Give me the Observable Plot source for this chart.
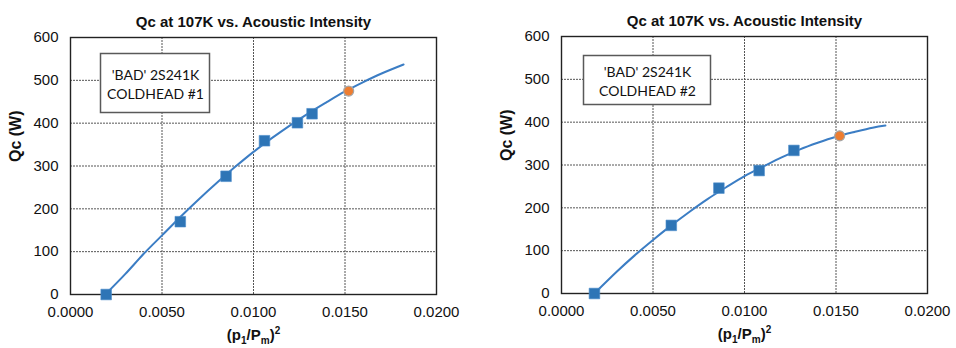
<!DOCTYPE html>
<html>
<head>
<meta charset="utf-8">
<script src="https://cdn.jsdelivr.net/npm/d3@7"></script>
<script src="https://cdn.jsdelivr.net/npm/@observablehq/plot@0.6"></script>
<style>
  html, body { margin: 0; padding: 0; background: #fff; }
  #wrap { display: flex; width: 956px; height: 348px; }
</style>
</head>
<body>
<div id="wrap"></div>
<script>
// ---- data ----
const xTicks = [0, 0.005, 0.010, 0.015, 0.020];
const yTicks = [0, 100, 200, 300, 400, 500, 600];
const titleText = "Qc at 107K vs. Acoustic Intensity";
const yLabelText = "Qc (W)";
const xLabelText = "(p1/Pm)2";

// Coldhead #1
const note1 = "'BAD' 2S241K\nCOLDHEAD #1";
const ch1X = [0.00195, 0.0060, 0.0085, 0.0106, 0.0124, 0.0132];
const ch1Q = [0, 170, 276, 359, 401, 422];
const ch1OrangeX = [0.0152];
const ch1OrangeQ = [475];
const fit1X = [0.0019, 0.003, 0.004, 0.005, 0.006, 0.007, 0.008, 0.009, 0.010, 0.011, 0.012, 0.013, 0.014, 0.015, 0.016, 0.017, 0.0182];
const fit1Q = [0, 48, 95, 138, 181, 222, 261, 298, 333, 365, 395, 423, 449, 474, 496, 516, 537];

// Coldhead #2
const note2 = "'BAD' 2S241K\nCOLDHEAD #2";
const ch2X = [0.0018, 0.0060, 0.0086, 0.0108, 0.0127];
const ch2Q = [0, 159, 246, 287, 334];
const ch2OrangeX = [0.0152];
const ch2OrangeQ = [368];
const fit2X = [0.0018, 0.003, 0.004, 0.005, 0.006, 0.007, 0.008, 0.009, 0.010, 0.011, 0.012, 0.013, 0.014, 0.015, 0.016, 0.017, 0.0177];
const fit2Q = [0, 50, 89, 125, 159, 191, 221, 248, 274, 296, 317, 336, 352, 366, 377, 387, 392];

// ---- drawing ----
const zip = (xs, ys) => xs.map((x, i) => ({x, q: ys[i]}));

function chart(cfg) {
  const blue = "#2E75B6";
  const svg = Plot.plot({
    width: 478,
    height: 348,
    marginLeft: cfg.ml,
    marginRight: cfg.mr,
    marginTop: cfg.mt,
    marginBottom: cfg.mb,
    style: {fontFamily: "'Liberation Sans', Arial, sans-serif", fontSize: "15px", color: "#111", background: "#fff", overflow: "visible"},
    x: {domain: [0, 0.02], ticks: xTicks, tickFormat: d3.format(".4f"), tickSize: 0, tickPadding: 12, label: null},
    y: {domain: [0, 600], ticks: yTicks, tickSize: 0, tickPadding: 12, label: null},
    marks: [
      Plot.ruleX(xTicks, {stroke: "#555", strokeWidth: 1, strokeDasharray: "2,1"}),
      Plot.ruleY(yTicks, {stroke: "#555", strokeWidth: 1, strokeDasharray: "2,1"}),
      Plot.frame({stroke: "#222", strokeWidth: 1.4}),
      Plot.line(zip(cfg.fitX, cfg.fitQ), {x: "x", y: "q", stroke: "#3B7DC4", strokeWidth: 2, curve: "natural"}),
      Plot.dot(zip(cfg.ptX, cfg.ptQ), {x: "x", y: "q", symbol: "square", r: 6, fill: blue, stroke: "#4F8FCC", strokeWidth: 0.6}),
      Plot.dot(zip(cfg.orX, cfg.orQ), {x: "x", y: "q", r: 5, fill: "#ED7D31", stroke: "#A6A6A6", strokeWidth: 1.2}),
      Plot.text([titleText], {frameAnchor: "top", dy: -21, fontWeight: "bold", fontSize: 15, fill: "#111"}),
      Plot.text([yLabelText], {frameAnchor: "left", rotate: -90, dx: -55, dy: -4, fontWeight: "bold", fontSize: 16, fill: "#111"}),
      Plot.text([xLabelText], {frameAnchor: "bottom", dy: 45, fontWeight: "bold", fontSize: 15, fill: "#111"}),
      Plot.text([cfg.note], {frameAnchor: "top-left", dx: cfg.nx, dy: cfg.ny, textAnchor: "middle", lineAnchor: "middle",
        fontFamily: "Lato, 'Open Sans', sans-serif", fontSize: 14, lineHeight: 1.38, fill: "#111"})
    ]
  });

  const root = d3.select(svg);
  // x label with real sub/superscripts
  const t = root.selectAll("text").filter(function () { return this.textContent === xLabelText; });
  t.text(null);
  t.append("tspan").text("(p");
  t.append("tspan").attr("font-size", 10).attr("dy", 4).text("1");
  t.append("tspan").attr("dy", -4).text("/P");
  t.append("tspan").attr("font-size", 10).attr("dy", 4).text("m");
  t.append("tspan").attr("dy", -4).text(")");
  t.append("tspan").attr("font-size", 10).attr("dy", -6).text("2");

  // box behind the annotation
  const noteText = root.selectAll("text").filter(function () { return this.textContent.includes("COLDHEAD"); });
  const noteG = noteText.node().parentNode;
  const cx = cfg.ml + cfg.nx, cy = cfg.mt + cfg.ny;
  const rect = document.createElementNS("http://www.w3.org/2000/svg", "rect");
  noteG.parentNode.insertBefore(rect, noteG);
  d3.select(rect)
    .attr("x", cx - cfg.bw / 2).attr("y", cy - cfg.bh / 2)
    .attr("width", cfg.bw).attr("height", cfg.bh)
    .attr("fill", "#fff").attr("stroke", "#595959").attr("stroke-width", 1.5);
  return svg;
}

const wrap = document.getElementById("wrap");
wrap.appendChild(chart({
  ml: 70, mr: 42, mt: 37, mb: 54,
  fitX: fit1X, fitQ: fit1Q, ptX: ch1X, ptQ: ch1Q, orX: ch1OrangeX, orQ: ch1OrangeQ,
  note: note1, nx: 85, ny: 46, bw: 109, bh: 59
}));
wrap.appendChild(chart({
  ml: 83, mr: 29, mt: 36, mb: 55,
  fitX: fit2X, fitQ: fit2Q, ptX: ch2X, ptQ: ch2Q, orX: ch2OrangeX, orQ: ch2OrangeQ,
  note: note2, nx: 86, ny: 44, bw: 127, bh: 49
}));
</script>
</body>
</html>
